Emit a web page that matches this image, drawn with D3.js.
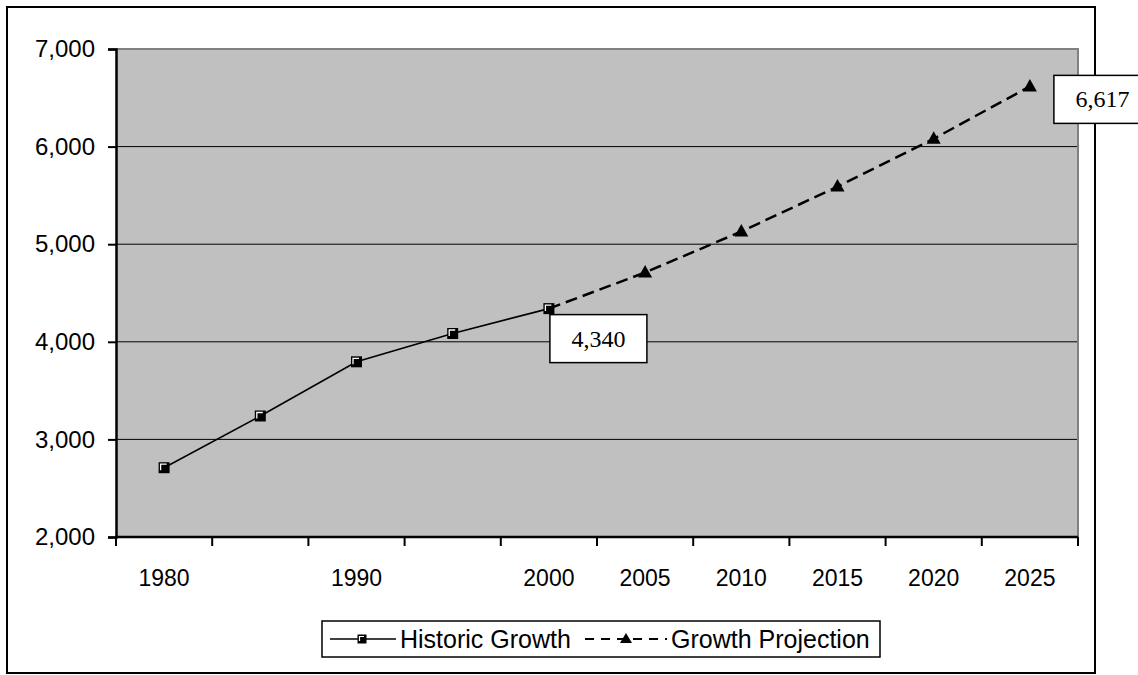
<!DOCTYPE html>
<html>
<head>
<meta charset="utf-8">
<script src="https://cdn.jsdelivr.net/npm/d3@7"></script>
<style>
  html, body { margin: 0; padding: 0; background: #ffffff; }
  svg { display: block; }
</style>
</head>
<body>
<svg id="chart" width="1138" height="675"></svg>
<script>
// Population growth: historic record and projection
const categories = ["1980", "1985", "1990", "1995", "2000", "2005", "2010", "2015", "2020", "2025"];
const tickLabels = ["1980", "", "1990", "", "2000", "2005", "2010", "2015", "2020", "2025"];

const historicYears = ["1980", "1985", "1990", "1995", "2000"];
const historicValues = [2710, 3240, 3795, 4085, 4340];

const projectionYears = ["2000", "2005", "2010", "2015", "2020", "2025"];
const projectionValues = [4340, 4710, 5130, 5590, 6080, 6617];

const yTicks = [2000, 3000, 4000, 5000, 6000, 7000];

// values called out with a label box
const calloutYears = ["2000", "2025"];
const calloutValues = [4340, 6617];

const svg = d3.select("#chart");
const plot = { left: 116, right: 1078, top: 49, bottom: 537 };
const SANS = "'Liberation Sans', Arial, sans-serif";

// outer frame
svg.append("rect")
  .attr("x", 7).attr("y", 7)
  .attr("width", 1088).attr("height", 666)
  .attr("fill", "#ffffff")
  .attr("stroke", "#000").attr("stroke-width", 2);

const x = d3.scaleBand().domain(categories).range([plot.left, plot.right]).padding(0);
const cx = d => x(d) + x.bandwidth() / 2;
const y = d3.scaleLinear().domain([2000, 7000]).range([plot.bottom, plot.top]);

// plot background
svg.append("rect")
  .attr("x", plot.left).attr("y", plot.top)
  .attr("width", plot.right - plot.left).attr("height", plot.bottom - plot.top)
  .attr("fill", "#c0c0c0");

// horizontal gridlines
svg.append("g").selectAll("line")
  .data(yTicks.slice(1, -1))
  .join("line")
  .attr("x1", plot.left).attr("x2", plot.right)
  .attr("y1", d => y(d)).attr("y2", d => y(d))
  .attr("stroke", "#000").attr("stroke-width", 1);

// plot border (top and right)
svg.append("path")
  .attr("d", `M${plot.left},${plot.top}H${plot.right}V${plot.bottom}`)
  .attr("fill", "none").attr("stroke", "#808080").attr("stroke-width", 2);

// y axis
const yAxis = d3.axisLeft(y)
  .tickValues(yTicks)
  .tickSize(8)
  .tickPadding(13)
  .tickFormat(d3.format(","));
const gy = svg.append("g").attr("transform", `translate(${plot.left},0)`).call(yAxis);
gy.select(".domain").attr("stroke", "#000").attr("stroke-width", 2.5);
gy.selectAll(".tick line").attr("stroke", "#000").attr("stroke-width", 2);
gy.selectAll(".tick text")
  .attr("font-family", SANS)
  .attr("font-size", 24).attr("fill", "#000");

// x axis: tick marks on category boundaries, labels centred in categories
const boundaries = categories.map(c => x(c)).concat([plot.right]);
const gx = svg.append("g");
gx.append("line")
  .attr("x1", plot.left - 1).attr("x2", plot.right)
  .attr("y1", plot.bottom).attr("y2", plot.bottom)
  .attr("stroke", "#000").attr("stroke-width", 2.5);
gx.selectAll("line.tk")
  .data(boundaries)
  .join("line").attr("class", "tk")
  .attr("x1", d => d).attr("x2", d => d)
  .attr("y1", plot.bottom).attr("y2", plot.bottom + 9)
  .attr("stroke", "#000").attr("stroke-width", 2);
gx.selectAll("text")
  .data(categories)
  .join("text")
  .attr("x", d => cx(d))
  .attr("y", 586)
  .attr("text-anchor", "middle")
  .attr("font-family", SANS)
  .attr("font-size", 23)
  .text((d, i) => tickLabels[i]);

// series lines
const historic = historicYears.map((c, i) => ({ c, v: historicValues[i] }));
const projection = projectionYears.map((c, i) => ({ c, v: projectionValues[i] }));
const line = d3.line().x(d => cx(d.c)).y(d => y(d.v));

svg.append("path")
  .datum(projection)
  .attr("d", line)
  .attr("fill", "none")
  .attr("stroke", "#000").attr("stroke-width", 2.5)
  .attr("stroke-dasharray", "12,6");

svg.append("path")
  .datum(historic)
  .attr("d", line)
  .attr("fill", "none")
  .attr("stroke", "#000").attr("stroke-width", 1.6);

// markers
const triPath = "M0,-7.5L7,5L-7,5Z";
function squareMarker(g) {
  g.append("rect").attr("x", -5.5).attr("y", -5.5).attr("width", 11).attr("height", 11)
    .attr("fill", "#000");
  g.append("path").attr("d", "M-3.5,2.5V-3.5H2.5")
    .attr("fill", "none").attr("stroke", "#fff").attr("stroke-width", 1.3);
}

svg.append("g").selectAll("path")
  .data(projection.slice(1))
  .join("path")
  .attr("transform", d => `translate(${cx(d.c)},${y(d.v)})`)
  .attr("d", triPath)
  .attr("fill", "#000");

svg.append("g").selectAll("g")
  .data(historic)
  .join("g")
  .attr("transform", d => `translate(${cx(d.c)},${y(d.v)})`)
  .each(function () { squareMarker(d3.select(this)); });

// callout labels
const callouts = calloutYears.map((c, i) => ({ c, v: calloutValues[i] }));
const offsets = [{ dx: 1, dy: 6 }, { dx: 24, dy: -11 }];
const boxW = 97, boxH = 48;
const cg = svg.append("g").selectAll("g")
  .data(callouts)
  .join("g")
  .attr("transform", (d, i) => `translate(${cx(d.c) + offsets[i].dx},${y(d.v) + offsets[i].dy})`);
cg.append("rect")
  .attr("width", boxW).attr("height", boxH)
  .attr("fill", "#fff").attr("stroke", "#000").attr("stroke-width", 1.5);
cg.append("text")
  .attr("x", boxW / 2).attr("y", boxH / 2 + 8)
  .attr("text-anchor", "middle")
  .attr("font-family", "'Liberation Serif', 'Times New Roman', serif")
  .attr("font-size", 24)
  .text(d => d3.format(",")(d.v));

// legend
const lg = svg.append("g");
lg.append("rect")
  .attr("x", 322).attr("y", 621).attr("width", 558).attr("height", 36)
  .attr("fill", "#fff").attr("stroke", "#000").attr("stroke-width", 1.5);
lg.append("line").attr("x1", 330).attr("x2", 396).attr("y1", 639).attr("y2", 639)
  .attr("stroke", "#000").attr("stroke-width", 1.6);
const lsq = lg.append("g").attr("transform", "translate(362,639)");
lsq.append("rect").attr("x", -4.5).attr("y", -4.5).attr("width", 9).attr("height", 9).attr("fill", "#000");
lsq.append("path").attr("d", "M-2.5,2V-2.5H2").attr("fill", "none").attr("stroke", "#fff").attr("stroke-width", 1.2);
lg.append("text").attr("x", 400).attr("y", 648)
  .attr("font-family", SANS).attr("font-size", 25)
  .text("Historic Growth");
lg.append("line").attr("x1", 585).attr("x2", 667).attr("y1", 639).attr("y2", 639)
  .attr("stroke", "#000").attr("stroke-width", 2).attr("stroke-dasharray", "9,7");
lg.append("path").attr("transform", "translate(626,639)").attr("d", "M0,-6L6,4L-6,4Z").attr("fill", "#000");
lg.append("text").attr("x", 671).attr("y", 648)
  .attr("font-family", SANS).attr("font-size", 25)
  .text("Growth Projection");
</script>
</body>
</html>
